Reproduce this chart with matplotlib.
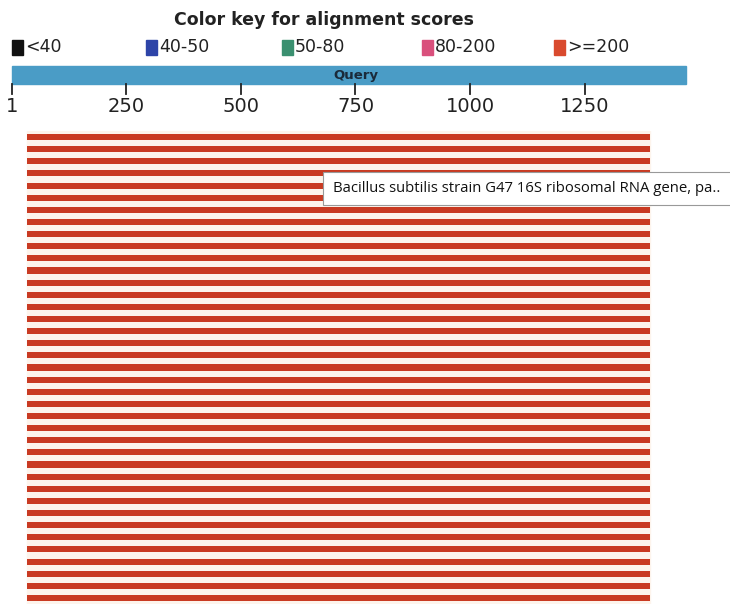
import numpy as np
import matplotlib
matplotlib.use('Agg')
import matplotlib.pyplot as plt
from matplotlib.patches import Rectangle

# colour key
key_labels = ['<40', '40-50', '50-80', '80-200', '>=200']
key_colors = ['#111111', '#2d44a8', '#3a9070', '#d9507c', '#d94a2e']
key_pos = [1, 293, 589, 895, 1182]   # in query coordinates

# query
query_len = 1470
ticks = [1, 250, 500, 750, 1000, 1250]

# hits (all score >= 200)
n_hits = 39
hit_start = [34] * n_hits
hit_end = [1391] * n_hits
hit_color = '#c93a22'

tip_text = 'Bacillus subtilis strain G47 16S ribosomal RNA gene, pa..'

W, H = 730, 607
fig = plt.figure(figsize=(W / 100, H / 100), dpi=100)

x0 = 1 - 11.7 / 0.459
x1 = 1 + (W - 11.7) / 0.459

# top part, y in pixels
ax = fig.add_axes([0, 0, 1, 1])
ax.set_xlim(x0, x1)
ax.set_ylim(H, 0)
ax.axis('off')

ax.text(682, 20, 'Color key for alignment scores', ha='center', va='center',
        fontsize=12.5, fontweight='bold', color='#222222')
for lab, col, p in zip(key_labels, key_colors, key_pos):
    ax.add_patch(Rectangle((p, 40), 24, 15, color=col))
    ax.text(p + 29, 47, lab, ha='left', va='center', fontsize=12.5, color='#222222')

ax.add_patch(Rectangle((1, 66), query_len - 1, 18, color='#4a9cc6'))
ax.text(750, 75, 'Query', ha='center', va='center', fontsize=9.5,
        fontweight='bold', color='#1a2a3a')
for t in ticks:
    ax.plot([t, t], [84, 94], color='#222222', lw=1.3)
    ax.text(t, 107, str(t), ha='center', va='center', fontsize=14, color='#222222')

# hits, y in rows
ax2 = fig.add_axes([0, 1 - 604 / H, 1, 473 / H])
ax2.set_xlim(x0, x1)
ax2.set_ylim(n_hits - 0.5, -0.5)
ax2.axis('off')
rows = np.arange(n_hits)
ax2.axvspan(hit_start[0], hit_end[0], color='#fdf4ec', zorder=0)
ax2.barh(rows, np.array(hit_end) - np.array(hit_start), left=hit_start,
         height=0.5, color=hit_color, zorder=1)

# tooltip
fig.patches.append(Rectangle((323 / W, 1 - 205 / H), (W - 322) / W, 33 / H,
                             transform=fig.transFigure, fc='white', ec='#999999',
                             lw=0.8, zorder=10))
fig.text(333 / W, 1 - 189 / H, tip_text, ha='left', va='center', fontsize=10.7,
         family='Open Sans', color='#111111', zorder=11)

fig.savefig('out.png', dpi=100)
